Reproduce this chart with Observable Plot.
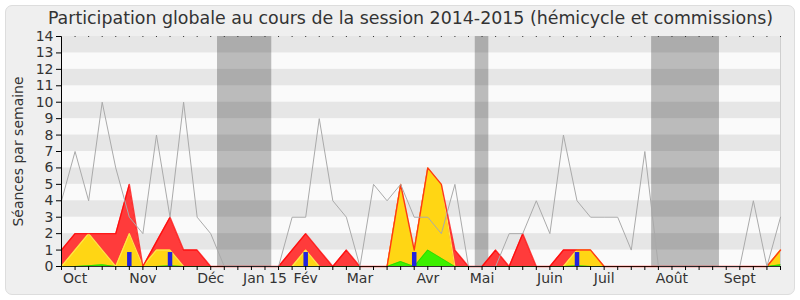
<!DOCTYPE html>
<html>
<head>
<meta charset="utf-8">
<script src="https://cdn.jsdelivr.net/npm/d3@7"></script>
<script src="https://cdn.jsdelivr.net/npm/@observablehq/plot@0.6"></script>
<style>
  html, body { margin: 0; padding: 0; background: #ffffff; }
  #wrap { position: relative; width: 800px; height: 300px; overflow: hidden; font-family: "DejaVu Sans", sans-serif; }
  #panel { position: absolute; left: 5px; top: 5px; width: 788px; height: 288px; background: #efefef; border: 1px solid #dddddd; border-radius: 7px; }
  #chart { position: absolute; left: 0; top: 0; }
  #title { position: absolute; left: 0; top: 5px; width: 800px; text-align: center; padding-left: 21px; box-sizing: border-box; color: #333333; font-size: 17.4px; white-space: nowrap; line-height: 26px; }
  #title span { display: inline-block; }
</style>
</head>
<body>
<div id="wrap">
  <div id="panel"></div>
  <div id="chart"></div>
  <div id="title"><span>Participation globale au cours de la session 2014-2015 (hémicycle et commissions)</span></div>
</div>
<script>
// Weekly values, session 2014-2015 (week index 0..53)
const median = [4,7,4,10,6,3,2,8,3,10,3,2,0,0,0,0,0,3,3,9,4,3,0,5,4,5,3,3,2,5,0,0,0,2,2,4,2,8,4,3,3,3,1,7,0,0,0,0,0,0,0,4,0,3];
const red    = [1,2,2,2,2,5,0,1.5,3,1,1,0,0,0,0,0,0,1,2,1,0,1,0,0,0,5,1,6,5,1,0,0,1,0,2,0,0,1,1,1,0,0,0,0,0,0,0,0,0,0,0,0,0,1];
const yellow = [0,1,2,1,0,2,0,1,1,0,0,0,0,0,0,0,0,0,1,0,0,0,0,0,0,5,1,6,5,0,0,0,0,0,0,0,0,0,1,1,0,0,0,0,0,0,0,0,0,0,0,0,0,1];
const green  = [0,0,0.05,0.1,0,0,0,0,0.05,0,0,0,0,0,0,0,0,0,0,0,0,0,0,0,0,0.3,0,1,0.5,0,0,0,0,0,0,0,0,0,0.05,0,0,0,0,0,0,0,0,0,0,0,0,0,0,0.1];
const blueWeeks  = [5, 8, 18, 26, 38];
const blueValues = [0.85, 0.85, 0.85, 0.85, 0.85];
const vacationStart = [11.5, 30.5, 43.5];
const vacationEnd   = [15.5, 31.5, 48.5];
const monthWeeks  = [1, 6, 11, 15, 18, 22, 27, 31, 36, 40, 45, 50];
const monthLabels = ["Oct", "Nov", "Déc", "Jan 15", "Fév", "Mar", "Avr", "Mai", "Juin", "Juil", "Août", "Sept"];
const yTicks = d3.range(0, 15);

const weeks = d3.range(median.length);
const rows = weeks.map(i => ({i, median: median[i], red: red[i], yellow: yellow[i], green: green[i]}));
const blues = blueWeeks.map((w, k) => ({i: w, v: blueValues[k]}));
const vacations = vacationStart.map((s, k) => ({s, e: vacationEnd[k]}));
const darkRows = yTicks.filter(t => t % 2 === 1 && t < 14);
const lastWeek = weeks[weeks.length - 1];

const chart = Plot.plot({
  width: 800,
  height: 300,
  marginLeft: 61,
  marginRight: 20,
  marginTop: 36,
  marginBottom: 34,
  style: {background: "transparent", fontFamily: "DejaVu Sans, sans-serif", fontSize: "14px", color: "#333333"},
  x: {domain: [0, lastWeek], label: null},
  y: {domain: [0, 14], label: null},
  marks: [
    Plot.frame({fill: "#fafafa", stroke: null}),
    Plot.rect(darkRows, {y1: d => d, y2: d => d + 1, fill: "#e6e6e6"}),
    Plot.rect(vacations, {x1: "s", x2: "e", fill: "black", fillOpacity: 0.25}),
    Plot.ruleX([lastWeek], {stroke: "#cfcfcf"}),
    Plot.areaY(rows, {x: "i", y: "red", fill: "#ff3b3b"}),
    Plot.areaY(rows, {x: "i", y: "yellow", fill: "#ffd614"}),
    Plot.lineY(rows, {x: "i", y: "yellow", stroke: "#ffe34a", strokeWidth: 1.2}),
    Plot.areaY(rows, {x: "i", y: "green", fill: "#3cf000"}),
    Plot.lineY(rows, {x: "i", y: "green", stroke: "#22cc00", strokeWidth: 1, strokeOpacity: 0.6}),
    Plot.lineY(rows, {x: "i", y: "red", stroke: "#ff0000", strokeWidth: 1.4, strokeOpacity: 0.75}),
    Plot.lineY(rows, {x: "i", y: "median", stroke: "#aaaaaa", strokeWidth: 1}),
    Plot.ruleX(blues, {x: "i", y1: 0, y2: "v", stroke: "#2323dd", strokeWidth: 4.5}),
    Plot.ruleY([0], {stroke: "black", strokeOpacity: 0.8}),
    Plot.ruleX([0], {stroke: "black"}),
    Plot.axisY({ticks: yTicks, tickSize: 5, tickPadding: 3, fontSize: 14, stroke: "black", fill: "#333333", tickFormat: d => d}),
    Plot.axisX({ticks: weeks, tickSize: 4, tickFormat: () => "", stroke: "black"}),
    Plot.axisX({anchor: "top", ticks: weeks, tickSize: 1, tickFormat: () => "", stroke: "#333333"}),
    Plot.axisX(monthWeeks, {tickSize: 0, tickPadding: 7, fontSize: 14, fill: "#333333", tickFormat: d => monthLabels[monthWeeks.indexOf(d)]}),
    Plot.text(["Séances par semaine"], {frameAnchor: "left", dx: -43, rotate: -90, textAnchor: "middle", fontSize: 14, fill: "#333333"})
  ]
});
document.getElementById("chart").appendChild(chart);

// fit the title to its width in the reference
const span = document.querySelector("#title span");
const w = span.getBoundingClientRect().width;
if (w > 0) {
  const fs = 17.4 * 725 / w;
  document.getElementById("title").style.fontSize = fs.toFixed(2) + "px";
}
</script>
</body>
</html>
